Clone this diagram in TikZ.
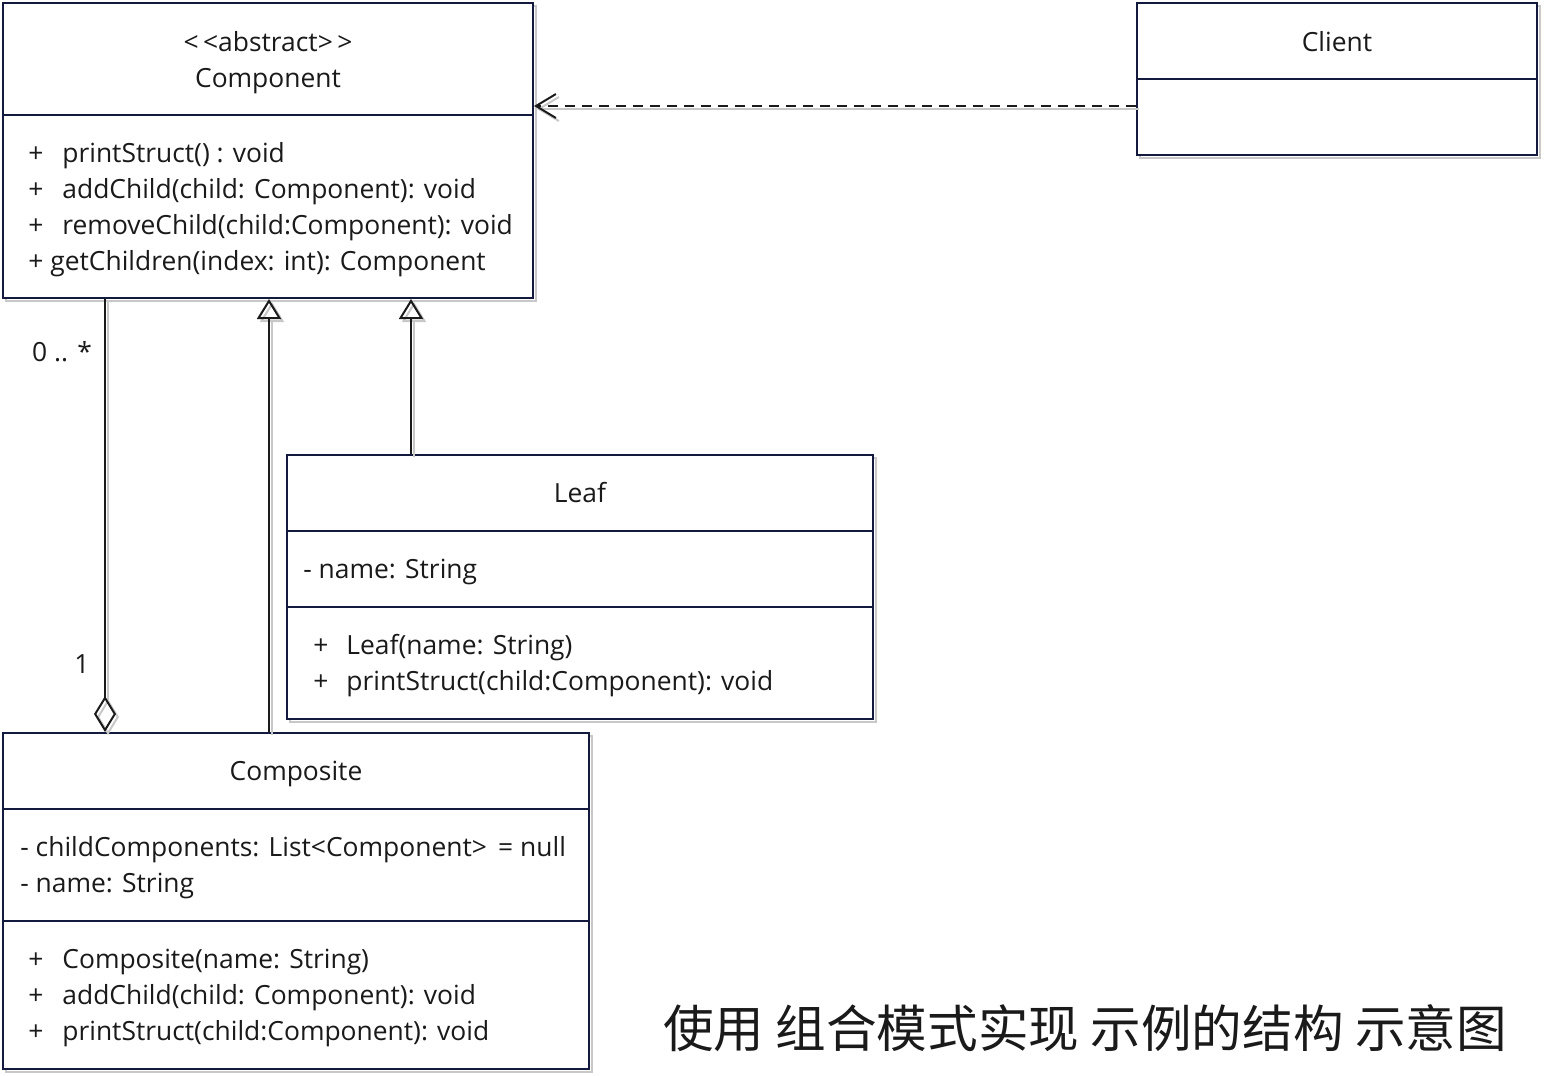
\documentclass[tikz,border=0pt]{standalone}
\usepackage{fontspec}
\setmainfont{Open Sans}
\newfontfamily\cjk{Noto Sans CJK SC}
\usetikzlibrary{arrows.meta,positioning}
\definecolor{boxline}{HTML}{141A3D}
\definecolor{shade}{HTML}{C8C8C8}
\definecolor{ink}{HTML}{1A1A1A}
\tikzset{
  shadowed/.style={preaction={draw=shade, line width=1pt, transform canvas={xshift=1.5pt,yshift=-1.5pt}}},
  classbox/.style={draw=boxline, line width=1pt, fill=white, shadowed, inner sep=0pt},
  divider/.style={draw=boxline, line width=1pt},
  member/.style={anchor=base west, inner sep=0pt, text=ink, font=\fontsize{13.2pt}{18pt}\selectfont},
  header/.style={member, anchor=base},
  link/.style={line width=1pt, draw=ink, shadowed},
}
\begin{document}
\begin{tikzpicture}[x=0.5pt, y=-0.5pt]
  % page, measured in pixels of the reference
  \path[fill=white, use as bounding box] (0,0) rectangle (1544,1076);

  % class boxes
  \node[classbox, minimum width=265pt, minimum height=147.5pt] (component) at (268,150.5) {};
  \node[classbox, minimum width=200pt, minimum height=76pt] (client) at (1337,79) {};
  \node[classbox, minimum width=293pt, minimum height=132pt] (leaf) at (580,587) {};
  \node[classbox, minimum width=293pt, minimum height=168pt] (composite) at (296,901) {};

  % compartments
  \draw[divider] (component.west |- 0,115) -- (component.east |- 0,115);
  \draw[divider] (client.west |- 0,79) -- (client.east |- 0,79);
  \draw[divider] (leaf.west |- 0,531) -- (leaf.east |- 0,531);
  \draw[divider] (leaf.west |- 0,607) -- (leaf.east |- 0,607);
  \draw[divider] (composite.west |- 0,809) -- (composite.east |- 0,809);
  \draw[divider] (composite.west |- 0,921) -- (composite.east |- 0,921);

  % Component
  \node[header] (compstereo) at (268,51) {<\,<abstract>\,>};
  \node[header] (compname) at (268,87) {Component};
  \foreach \txt [count=\i] in {{\makebox[17pt][l]{+}printStruct() : void},
      {\makebox[17pt][l]{+}addChild(child: Component): void},
      {\makebox[17pt][l]{+}removeChild(child:Component): void},
      {+ getChildren(index: int): Component}} {
    \node[member] (compop\i) at (28,126+36*\i) {\txt};
  }

  % Client
  \node[header] (clientname) at (1337,51) {Client};

  % Leaf
  \node[header] (leafname) at (580,502) {Leaf};
  \node[member] (leafattr) at (303,578) {- name: String};
  \foreach \txt [count=\i] in {{\makebox[16.5pt][l]{+}Leaf(name: String)},
      {\makebox[16.5pt][l]{+}printStruct(child:Component): void}} {
    \node[member] (leafop\i) at (313,618+36*\i) {\txt};
  }

  % Composite
  \node[header] (compositename) at (296,780) {Composite};
  \foreach \txt [count=\i] in {{- childComponents: List<Component> \,= null},
      {- name: String}} {
    \node[member] (compositeattr\i) at (20,820+36*\i) {\txt};
  }
  \foreach \txt [count=\i] in {{\makebox[17pt][l]{+}Composite(name: String)},
      {\makebox[17pt][l]{+}addChild(child: Component): void},
      {\makebox[17pt][l]{+}printStruct(child:Component): void}} {
    \node[member] (compositeop\i) at (28,932+36*\i) {\txt};
  }

  % relations
  \draw[link, dash pattern=on 5pt off 3.5pt, -{Straight Barb[length=10pt,width=12pt]}]
    (client.west |- 0,106) -- (component.east |- 0,106);
  \draw[link, -{Triangle[open,length=10pt,width=12pt]}]
    (composite.north -| 269,0) -- (component.south -| 269,0);
  \draw[link, -{Triangle[open,length=10pt,width=12pt]}]
    (leaf.north -| 411,0) -- (component.south -| 411,0);
  \draw[link, {Diamond[open,length=18pt,width=11pt]}-]
    (composite.north -| 105,0) -- (component.south -| 105,0);
  \node[header] (manylabel) at (62,361) {0 .. *};
  \node[header] (onelabel) at (82,673) {1};

  % caption
  \node[inner sep=0pt, text=ink, font=\cjk\fontsize{25.3pt}{30pt}\selectfont] (caption) at (1085,1028)
    {使用 组合模式实现 示例的结构 示意图};
\end{tikzpicture}
\end{document}
